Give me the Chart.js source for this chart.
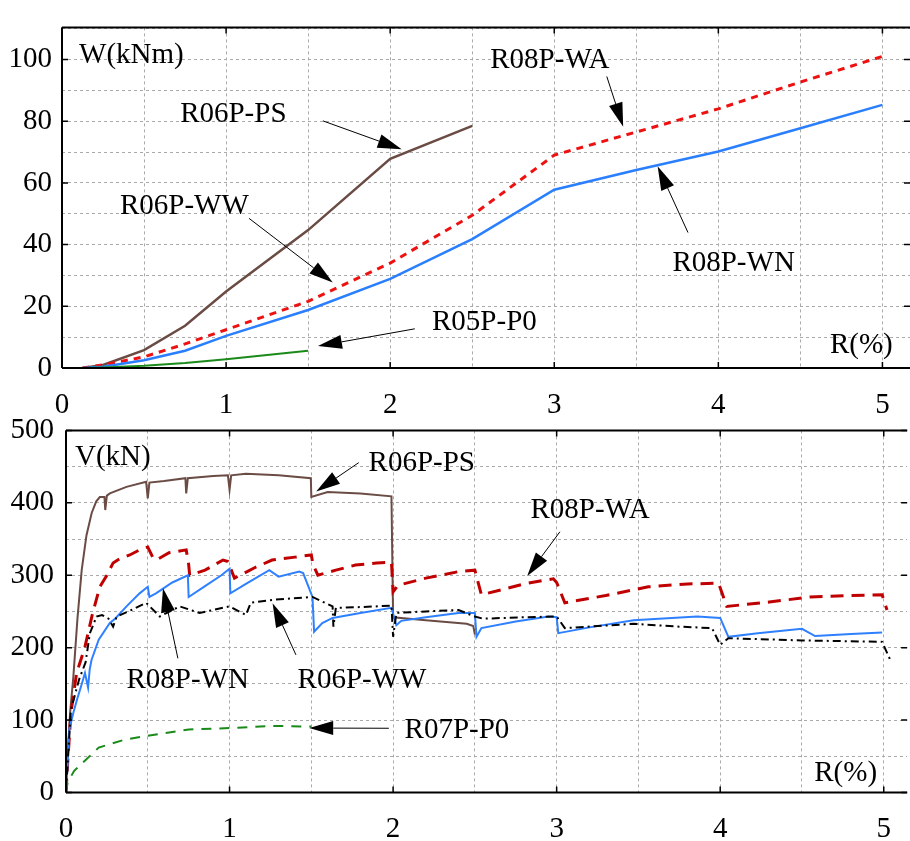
<!DOCTYPE html>
<html>
<head>
<meta charset="utf-8">
<script src="https://cdn.jsdelivr.net/npm/chart.js@4/dist/chart.umd.min.js"></script>
<style>
  body { margin: 0; background: #fff; }
  #wrap { position: relative; width: 910px; height: 841px; overflow: hidden; }
  #energyChart { position: absolute; left: 0; top: 0; }
  #shearChart { position: absolute; left: 0; top: 401px; }
</style>
</head>
<body>
<div id="wrap">
  <canvas id="energyChart" width="910" height="415"></canvas>
  <canvas id="shearChart" width="910" height="440"></canvas>
</div>
<script>
// ---- top chart: W(kNm) vs R(%) ----
const wR   = [0.125, 0.25, 0.5, 0.75, 1, 1.5, 2, 2.5, 3, 3.5, 4, 4.5, 5];
const wPS  = [0, 1, 5.8, 13.7, 24.8, 44.7, 67.8, 78.5];
const wWA  = [0, 1, 3.6, 7.8, 12.4, 21.6, 34, 49.5, 69, 76.5, 84, 92.7, 101];
const wWN  = [0, 0.4, 2.5, 5.6, 10.4, 18.8, 28.9, 41.8, 57.8, 64.2, 70.2, 77.7, 85.3];
const wP0  = [0, 0.2, 0.7, 1.6, 2.8, 5.6];

// ---- bottom chart: V(kN) vs R(%) ----
const psR = [0, 0.01, 0.025, 0.045, 0.07, 0.096, 0.125, 0.157, 0.185, 0.207, 0.235, 0.24, 0.25, 0.268, 0.37, 0.49, 0.5, 0.51, 0.6, 0.73, 0.735, 0.745, 0.9, 0.99, 1.0, 1.01, 1.1, 1.3, 1.497, 1.5, 1.6, 1.8, 1.99, 2.0, 2.2, 2.45, 2.49, 2.5];
const psV = [0, 50, 110, 160, 240, 307, 355, 386, 402, 408, 408, 390, 410, 413, 422, 429, 406, 428, 430, 434, 413, 434, 437, 438, 418, 438, 440, 438, 434, 408, 415, 413, 409, 242, 238, 233, 230, 218];

const waR = [0, 0.01, 0.03, 0.065, 0.116, 0.16, 0.207, 0.25, 0.288, 0.33, 0.39, 0.45, 0.5, 0.53, 0.553, 0.63, 0.735, 0.75, 0.756, 0.85, 0.96, 0.99, 1.03, 1.15, 1.26, 1.4, 1.5, 1.51, 1.54, 1.65, 1.77, 1.9, 1.99, 2.0, 2.03, 2.2, 2.4, 2.5, 2.54, 2.7, 2.82, 2.98, 3.0, 3.05, 3.3, 3.56, 3.8, 3.99, 4.04, 4.3, 4.55, 4.8, 4.99, 5.02];
const waV = [0, 40, 110, 165, 201, 245, 284, 300, 317, 323, 328, 335, 339, 325, 321, 331, 335, 315, 300, 307, 321, 319, 296, 310, 321, 325, 328, 315, 300, 307, 314, 317, 318, 277, 286, 296, 305, 307, 273, 282, 289, 295, 290, 262, 272, 284, 288, 289, 257, 263, 270, 272, 273, 252];

const wnR = [0, 0.01, 0.02, 0.045, 0.067, 0.09, 0.116, 0.135, 0.145, 0.156, 0.2, 0.268, 0.3, 0.37, 0.45, 0.5, 0.51, 0.55, 0.65, 0.745, 0.75, 0.85, 0.95, 1.0, 1.005, 1.1, 1.243, 1.3, 1.426, 1.45, 1.507, 1.517, 1.567, 1.63, 1.8, 1.99, 2.02, 2.05, 2.2, 2.4, 2.5, 2.51, 2.54, 2.75, 2.95, 3.0, 3.01, 3.2, 3.47, 3.86, 4.0, 4.05, 4.23, 4.5, 4.58, 4.8, 4.99];
const wnV = [0, 40, 87, 110, 128, 145, 165, 145, 170, 183, 211, 234, 240, 257, 275, 284, 270, 275, 290, 300, 270, 285, 300, 309, 275, 288, 307, 298, 305, 303, 270, 222, 234, 241, 248, 255, 231, 237, 242, 248, 248, 215, 227, 236, 243, 242, 220, 228, 238, 243, 241, 215, 220, 226, 216, 219, 221];

const wwR = [0, 0.01, 0.03, 0.08, 0.12, 0.146, 0.187, 0.22, 0.26, 0.288, 0.31, 0.4, 0.49, 0.573, 0.695, 0.817, 1.0, 1.1, 1.13, 1.263, 1.507, 1.63, 1.635, 1.65, 1.8, 1.99, 2.0, 2.02, 2.2, 2.4, 2.5, 2.55, 2.8, 3.0, 3.05, 3.47, 3.75, 3.95, 4.0, 4.05, 4.5, 4.99, 5.04];
const wwV = [0, 40, 114, 156, 180, 220, 243, 245, 240, 229, 243, 252, 262, 243, 257, 248, 257, 245, 262, 266, 270, 257, 229, 255, 256, 258, 215, 248, 250, 252, 243, 240, 242, 243, 227, 233, 229, 227, 204, 213, 210, 208, 183];

const poR = [0, 0.01, 0.05, 0.12, 0.2, 0.36, 0.49, 0.75, 1.0, 1.26, 1.5];
const poV = [0, 14, 30, 45, 62, 73, 78, 87, 89, 92, 91];

// labels and arrows, in data units
const topNotes = [
  ['W(kNm)', 0.104, 101.4], ['R06P-PS', 0.72, 82.2], ['R06P-WW', 0.353, 52.5],
  ['R05P-P0', 2.255, 14.8], ['R08P-WA', 2.61, 99.7], ['R08P-WN', 3.72, 33.8], ['R(%)', 4.68, 7.4]
];
const topArrows = [
  [1.59, 80.1, 2.07, 70.9], [1.14, 48.5, 1.65, 27.7], [2.15, 12.7, 1.56, 7.1],
  [3.32, 94.5, 3.42, 78.2], [3.815, 43.9, 3.63, 65.4]
];
const botNotes = [
  ['V(kN)', 0.055, 462.7], ['R06P-PS', 1.85, 455], ['R08P-WA', 2.84, 390],
  ['R08P-WN', 0.37, 155.4], ['R06P-WW', 1.416, 155.4], ['R07P-P0', 2.07, 86.3], ['R(%)', 4.575, 26.2]
];
const botArrows = [
  [1.79, 455.5, 1.53, 415.5], [3.02, 360, 2.82, 299], [0.684, 185.3, 0.593, 282],
  [1.406, 190, 1.263, 261.3], [1.974, 88.7, 1.487, 89]
];

const FONT = '"Liberation Serif", "Times New Roman", serif';
const FSIZE = 29;

function pairs(xs, ys) {
    return ys.map((y, i) => ({ x: xs[i], y: y }));
}

function line(data, color, width, dash) {
    return { data: data, borderColor: color, borderWidth: width, borderDash: dash || [],
             showLine: true, pointRadius: 0, tension: 0, fill: false };
}

// frame, inward ticks, text labels and arrows
const decor = {
    id: 'decor',
    afterDatasetsDraw(chart, args, opts) {
        const ctx = chart.ctx, a = chart.chartArea;
        const xs = chart.scales.x, ys = chart.scales.y;
        ctx.save();
        ctx.strokeStyle = '#000';
        ctx.lineWidth = 2;
        ctx.beginPath();
        ctx.moveTo(a.left, a.top); ctx.lineTo(a.right, a.top);
        ctx.moveTo(a.left, a.bottom); ctx.lineTo(a.right, a.bottom);
        ctx.moveTo(a.left, a.top); ctx.lineTo(a.left, a.bottom);
        ctx.stroke();
        ctx.lineWidth = 1.5;
        ctx.beginPath();
        for (let v = 0; v <= xs.max; v += 1) {
            const px = xs.getPixelForValue(v);
            ctx.moveTo(px, a.top); ctx.lineTo(px, a.top + 6);
            ctx.moveTo(px, a.bottom); ctx.lineTo(px, a.bottom - 6);
        }
        for (let v = 0; v <= ys.max; v += opts.yMajor) {
            const py = ys.getPixelForValue(v);
            ctx.moveTo(a.left, py); ctx.lineTo(a.left + 6, py);
            ctx.moveTo(a.right, py); ctx.lineTo(a.right - 6, py);
        }
        ctx.stroke();

        ctx.fillStyle = '#000';
        ctx.font = FSIZE + 'px ' + FONT;
        ctx.textAlign = 'left';
        ctx.textBaseline = 'middle';
        opts.notes.forEach(n => {
            ctx.fillText(n[0], xs.getPixelForValue(n[1]), ys.getPixelForValue(n[2]));
        });

        ctx.lineWidth = 1;
        opts.arrows.forEach(r => {
            const x0 = xs.getPixelForValue(r[0]), y0 = ys.getPixelForValue(r[1]);
            const x1 = xs.getPixelForValue(r[2]), y1 = ys.getPixelForValue(r[3]);
            const ang = Math.atan2(y1 - y0, x1 - x0);
            const len = 24, hw = 7;
            const bx = x1 - len * Math.cos(ang), by = y1 - len * Math.sin(ang);
            ctx.beginPath();
            ctx.moveTo(x0, y0); ctx.lineTo(bx, by);
            ctx.stroke();
            ctx.beginPath();
            ctx.moveTo(x1, y1);
            ctx.lineTo(bx + hw * Math.sin(ang), by - hw * Math.cos(ang));
            ctx.lineTo(bx - hw * Math.sin(ang), by + hw * Math.cos(ang));
            ctx.closePath();
            ctx.fill();
        });
        ctx.restore();
    }
};

function makeOptions(cfg) {
    return {
        responsive: false,
        animation: false,
        devicePixelRatio: 1,
        layout: { padding: { top: cfg.padTop, right: 0, left: 0, bottom: 0 } },
        plugins: {
            legend: { display: false },
            tooltip: { enabled: false },
            decor: { notes: cfg.notes, arrows: cfg.arrows, yMajor: cfg.yMajor }
        },
        scales: {
            x: {
                type: 'linear', min: 0, max: cfg.xMax,
                afterFit(s) { s.height = cfg.xHeight; },
                grid: { color: '#aaa', lineWidth: 1, drawTicks: false },
                border: { display: false, dash: [3, 3] },
                ticks: {
                    stepSize: 0.5, includeBounds: false, autoSkip: false, maxRotation: 0,
                    padding: cfg.xPad, color: '#000', font: { family: FONT, size: FSIZE },
                    callback: v => (Math.abs(v - Math.round(v)) < 1e-6 ? String(Math.round(v)) : '')
                }
            },
            y: {
                type: 'linear', min: 0, max: cfg.yMax,
                afterFit(s) { s.width = cfg.yWidth; },
                grid: { color: '#aaa', lineWidth: 1, drawTicks: false },
                border: { display: false, dash: [3, 3] },
                ticks: {
                    stepSize: cfg.yStep, includeBounds: false, autoSkip: false,
                    padding: cfg.yPad, color: '#000', font: { family: FONT, size: FSIZE },
                    callback: v => (Math.abs(v % cfg.yMajor) < 1e-6 ? String(v) : '')
                }
            }
        }
    };
}

new Chart(document.getElementById('energyChart'), {
    type: 'scatter',
    data: {
        datasets: [
            line(pairs(wR, wP0), '#1a8a1a', 2),
            line(pairs(wR, wWN), '#2a7fff', 2.5),
            line(pairs(wR, wWA), '#ee1111', 3, [7, 6]),
            line(pairs(wR, wPS), '#6b4c45', 2.5)
        ]
    },
    options: makeOptions({ padTop: 8, xMax: 5.168, yMax: 110.4, yStep: 10, yMajor: 20,
        xHeight: 47, yWidth: 62, xPad: 20, yPad: 10, notes: topNotes, arrows: topArrows }),
    plugins: [decor]
});

new Chart(document.getElementById('shearChart'), {
    type: 'scatter',
    data: {
        datasets: [
            line(pairs(poR, poV), '#1a8a1a', 2, [10, 8]),
            line(pairs(wwR, wwV), '#000', 2, [8, 4, 2, 4]),
            line(pairs(wnR, wnV), '#2f80ff', 2),
            line(pairs(waR, waV), '#c00000', 3, [13, 8]),
            line(pairs(psR, psV), '#6b4c45', 2)
        ]
    },
    options: makeOptions({ padTop: 15, xMax: 5.143, yMax: 500, yStep: 50, yMajor: 100,
        xHeight: 48.5, yWidth: 66, xPad: 19, yPad: 12, notes: botNotes, arrows: botArrows }),
    plugins: [decor]
});
</script>
</body>
</html>
